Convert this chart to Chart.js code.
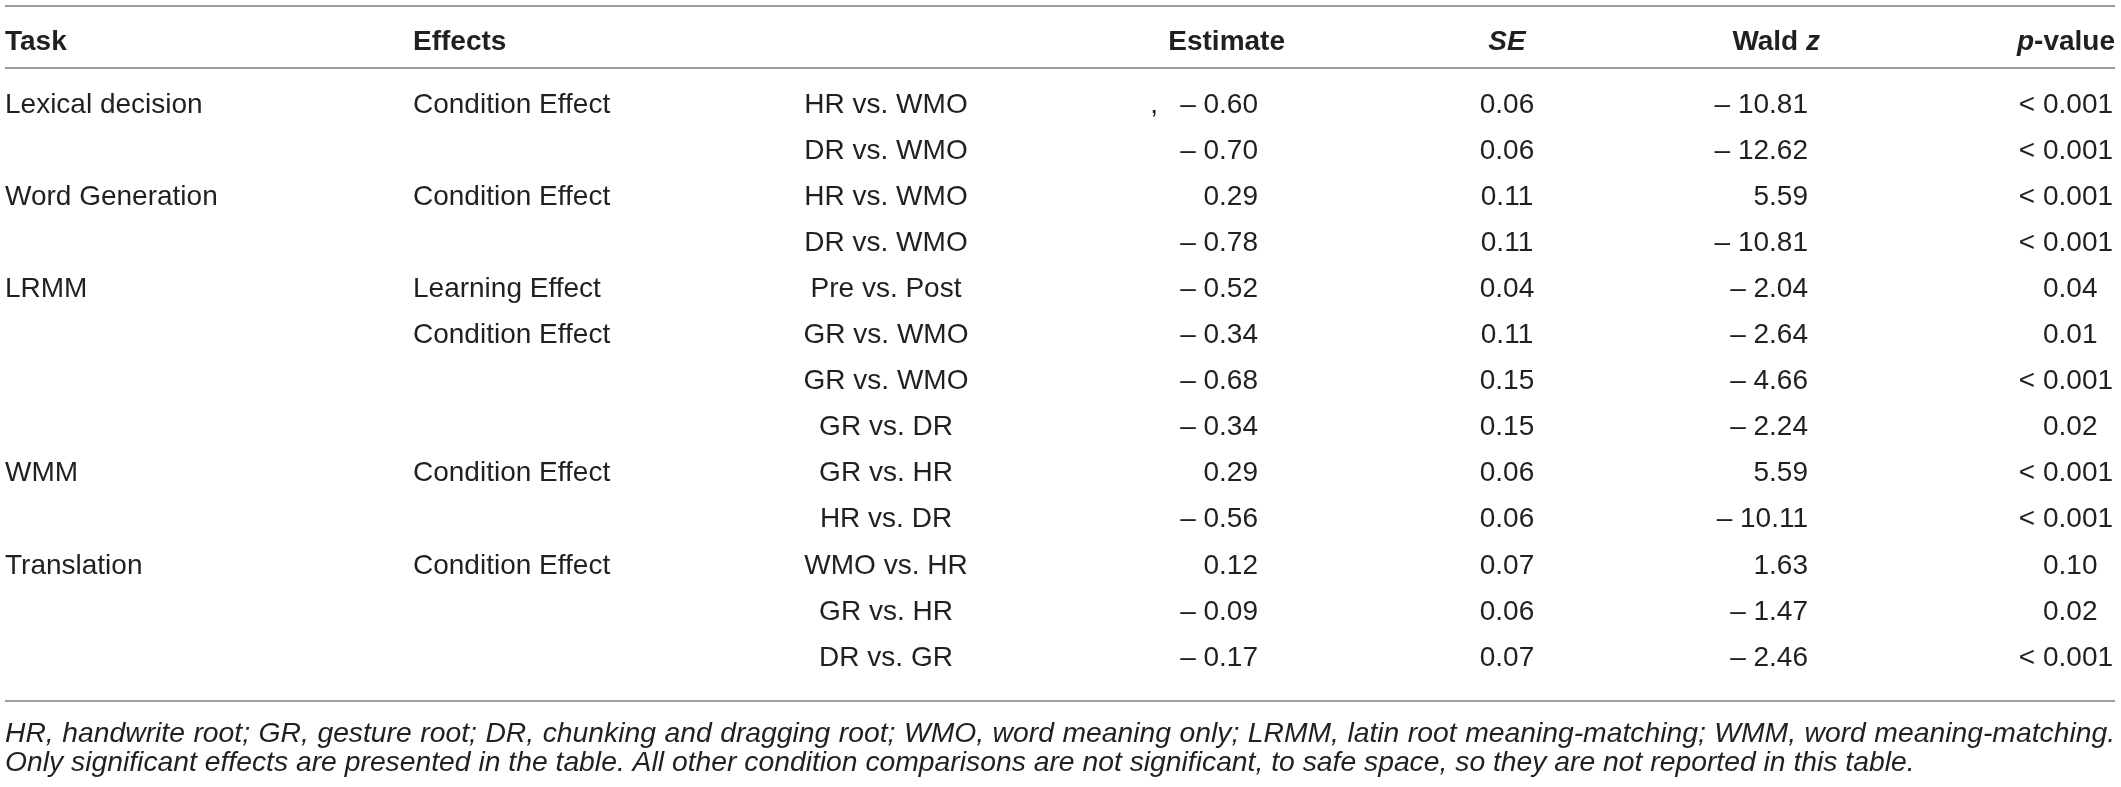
<!DOCTYPE html>
<html>
<head>
<meta charset="utf-8">
<script src="https://cdn.jsdelivr.net/npm/chart.js@4.4.0/dist/chart.umd.min.js"></script>
<style>
  html, body { margin: 0; padding: 0; background: #fff; overflow: hidden; }
</style>
</head>
<body>
<canvas id="tableChart" width="2121" height="787"></canvas>
<script>
// table data, one entry per row
var tasks = ['Lexical decision', '', 'Word Generation', '', 'LRMM', '', '', '', 'WMM', '', 'Translation', '', ''];
var effects = ['Condition Effect', '', 'Condition Effect', '', 'Learning Effect', 'Condition Effect', '', '', 'Condition Effect', '', 'Condition Effect', '', ''];
var comparisons = ['HR vs. WMO', 'DR vs. WMO', 'HR vs. WMO', 'DR vs. WMO', 'Pre vs. Post', 'GR vs. WMO', 'GR vs. WMO', 'GR vs. DR', 'GR vs. HR', 'HR vs. DR', 'WMO vs. HR', 'GR vs. HR', 'DR vs. GR'];
var estimates = [-0.60, -0.70, 0.29, -0.78, -0.52, -0.34, -0.68, -0.34, 0.29, -0.56, 0.12, -0.09, -0.17];
var strayMarks = [',', '', '', '', '', '', '', '', '', '', '', '', ''];
var standardErrors = [0.06, 0.06, 0.11, 0.11, 0.04, 0.11, 0.15, 0.15, 0.06, 0.06, 0.07, 0.06, 0.07];
var waldZ = [-10.81, -12.62, 5.59, -10.81, -2.04, -2.64, -4.66, -2.24, 5.59, -10.11, 1.63, -1.47, -2.46];
var pValues = ['< 0.001', '< 0.001', '< 0.001', '< 0.001', '0.04', '0.01', '< 0.001', '0.02', '< 0.001', '< 0.001', '0.10', '0.02', '< 0.001'];

var footnoteLines = [
  'HR, handwrite root; GR, gesture root; DR, chunking and dragging root; WMO, word meaning only; LRMM, latin root meaning-matching; WMM, word meaning-matching.',
  'Only significant effects are presented in the table. All other condition comparisons are not significant, to safe space, so they are not reported in this table.'
];

// look
var FONT = '"Liberation Sans", Arial, sans-serif';
var SIZE = 28;
var INK = '#231f20';
var RULE = '#9d9d9d';
var LEFT = 5, RIGHT = 2115;

function fmt(v) {
  return (v < 0 ? '\u2013 ' : '') + Math.abs(v).toFixed(2);
}

// one scatter dataset per column; the points carry the cell text
function column(texts, anchor, align) {
  return {
    data: texts.map(function (t, i) { return { x: anchor, y: i }; }),
    texts: texts,
    align: align,
    pointRadius: 0,
    pointHoverRadius: 0,
    showLine: false
  };
}

function drawRuns(ctx, runs, x, y, align) {
  var total = 0;
  runs.forEach(function (r) { ctx.font = r.font; r.w = ctx.measureText(r.text).width; total += r.w; });
  var start = align === 'right' ? x - total : (align === 'center' ? x - total / 2 : x);
  ctx.textAlign = 'left';
  runs.forEach(function (r) { ctx.font = r.font; ctx.fillText(r.text, start, y); start += r.w; });
}

var plain = SIZE + 'px ' + FONT;
var bold = 'bold ' + SIZE + 'px ' + FONT;
var boldItalic = 'italic bold ' + SIZE + 'px ' + FONT;
var italic = 'italic 28.3px ' + FONT;

var headers = [
  { runs: [{ text: 'Task', font: bold }], x: LEFT, align: 'left' },
  { runs: [{ text: 'Effects', font: bold }], x: 413, align: 'left' },
  { runs: [{ text: 'Estimate', font: bold }], x: 1285, align: 'right' },
  { runs: [{ text: 'SE', font: boldItalic }], x: 1507, align: 'center' },
  { runs: [{ text: 'Wald ', font: bold }, { text: 'z', font: boldItalic }], x: 1820, align: 'right' },
  { runs: [{ text: 'p', font: boldItalic }, { text: '-value', font: bold }], x: RIGHT, align: 'right' }
];

var tablePlugin = {
  id: 'tableText',
  afterDatasetsDraw: function (chart) {
    var ctx = chart.ctx;
    var area = chart.chartArea;
    ctx.save();
    ctx.fillStyle = INK;
    ctx.textBaseline = 'middle';

    // rules
    ctx.strokeStyle = RULE;
    ctx.lineWidth = 2;
    [area.top - 76, area.top - 14, area.bottom + 20].forEach(function (y) {
      ctx.beginPath();
      ctx.moveTo(LEFT, y);
      ctx.lineTo(RIGHT, y);
      ctx.stroke();
    });

    // header
    headers.forEach(function (h) { drawRuns(ctx, h.runs, h.x, area.top - 40, h.align); });

    // cells
    chart.data.datasets.forEach(function (ds, di) {
      var meta = chart.getDatasetMeta(di);
      meta.data.forEach(function (pt, i) {
        var t = ds.texts[i];
        if (!t) return;
        ctx.font = plain;
        if (ds.align === 'split') {
          var parts = t.indexOf('< ') === 0 ? ['< ', t.slice(2)] : ['', t];
          ctx.textAlign = 'right';
          ctx.fillText(parts[0], pt.x, pt.y);
          ctx.textAlign = 'left';
          ctx.fillText(parts[1], pt.x, pt.y);
        } else {
          ctx.textAlign = ds.align;
          ctx.fillText(t, pt.x, pt.y);
        }
      });
    });

    // footnote, first line justified
    ctx.font = italic;
    ctx.textAlign = 'left';
    var words = footnoteLines[0].split(' ');
    var widths = words.map(function (w) { return ctx.measureText(w).width; });
    var sum = widths.reduce(function (a, b) { return a + b; }, 0);
    var gap = (RIGHT - LEFT - sum) / (words.length - 1);
    var x = LEFT;
    words.forEach(function (w, i) { ctx.fillText(w, x, area.bottom + 53); x += widths[i] + gap; });
    ctx.fillText(footnoteLines[1], LEFT, area.bottom + 82);
    ctx.restore();
  }
};

var ctx = document.getElementById('tableChart').getContext('2d');
var tableChart = new Chart(ctx, {
  type: 'scatter',
  data: {
    datasets: [
      column(tasks, LEFT, 'left'),
      column(effects, 413, 'left'),
      column(comparisons, 886, 'center'),
      column(strayMarks, 1158, 'right'),
      column(estimates.map(fmt), 1258, 'right'),
      column(standardErrors.map(function (v) { return v.toFixed(2); }), 1507, 'center'),
      column(waldZ.map(fmt), 1808, 'right'),
      column(pValues, 2043, 'split')
    ]
  },
  options: {
    responsive: false,
    animation: false,
    devicePixelRatio: 1,
    events: [],
    layout: { padding: { top: 82, bottom: 106, left: 0, right: 0 } },
    plugins: { legend: { display: false }, tooltip: { enabled: false } },
    scales: {
      x: { type: 'linear', min: 0, max: 2121, display: false },
      y: { type: 'category', labels: comparisons, offset: true, display: false }
    }
  },
  plugins: [tablePlugin]
});
</script>
</body>
</html>
